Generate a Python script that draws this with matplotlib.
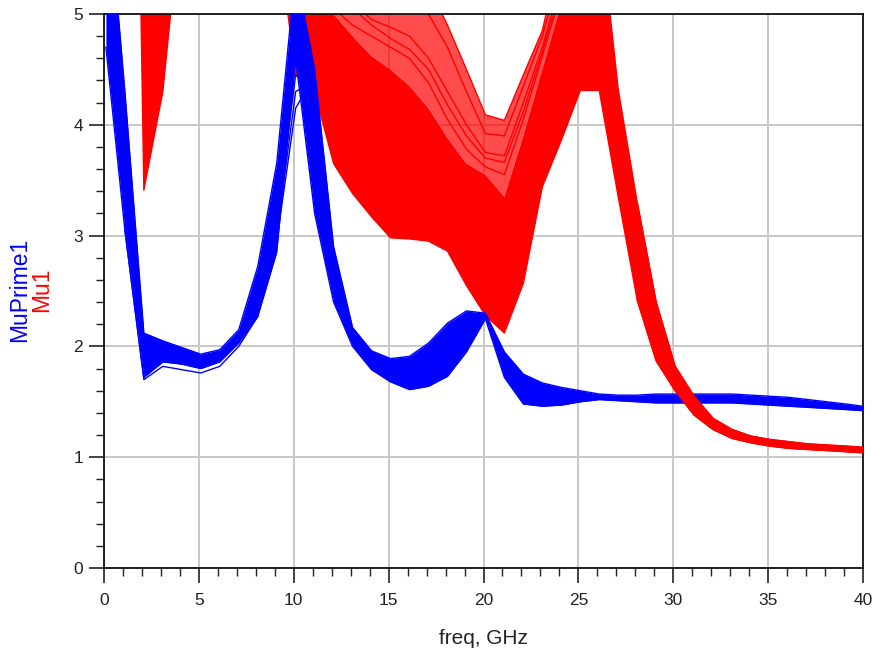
import numpy as np
import matplotlib
matplotlib.use("Agg")
import matplotlib.pyplot as plt
from matplotlib.ticker import MultipleLocator

plt.rcParams['font.family'] = ['Liberation Sans', 'DejaVu Sans']

nan = np.nan
# sweep points (GHz)
freq = np.append(np.arange(0.1, 39.2, 1.0), 40.0)

# MuPrime1 (blue) family envelope
mu_prime_upper = [6.3, 4.3, 2.12, 2.05, 1.99, 1.93, 1.97, 2.15, 2.72, 3.65,
                  5.4, 4.5, 2.9, 2.17, 1.96, 1.89, 1.91, 2.03, 2.21, 2.32,
                  2.30, 1.95, 1.75, 1.67, 1.63, 1.60, 1.57, 1.56, 1.56, 1.57,
                  1.57, 1.57, 1.57, 1.57, 1.56, 1.55, 1.54, 1.52, 1.50, 1.48,
                  1.46]
mu_prime_lower = [4.7, 3.05, 1.72, 1.86, 1.84, 1.80, 1.86, 2.03, 2.27, 2.85,
                  4.6, 3.2, 2.4, 2.0, 1.79, 1.68, 1.61, 1.64, 1.73, 1.95,
                  2.25, 1.72, 1.48, 1.46, 1.47, 1.50, 1.52, 1.51, 1.50, 1.49,
                  1.49, 1.49, 1.49, 1.49, 1.48, 1.47, 1.46, 1.45, 1.44, 1.43,
                  1.42]
# separate blue traces visible outside the dense band
mu_prime_low_trace = [nan, 3.05, 1.70, 1.82, 1.79, 1.76, 1.82, 2.00, 2.27] + [nan] * 32
mu_prime_peak_a = [nan] * 9 + [2.95, 4.15, 4.45, 2.6] + [nan] * 28
mu_prime_peak_b = [nan] * 9 + [3.00, 4.30, 4.40, 2.7] + [nan] * 28
mu_prime_peak_c = [nan] * 9 + [3.10, 4.45, 4.30, 2.75] + [nan] * 28

# Mu1 (red) family envelope
mu_lower = [18, 14, 3.41, 4.3, 6.0, 7.0, 7.5, 7.5, 7.0, 5.8,
            4.45, 4.3, 3.65, 3.38, 3.17, 2.98, 2.97, 2.95, 2.86, 2.55,
            2.28, 2.12, 2.57, 3.44, 3.86, 4.31, 4.31, 3.35, 2.42, 1.87,
            1.60, 1.38, 1.25, 1.17, 1.13, 1.10, 1.08, 1.07, 1.06, 1.05,
            1.04]
mu_dense_top = [20, 16, 5.6, 8, 9, 9, 9, 9, 9, 7,
                5.4, 5.2, 5.0, 4.8, 4.62, 4.5, 4.35, 4.15, 3.88, 3.65,
                3.55, 3.35, 3.9, 4.5, 5.1, 6.5, 5.9, 4.32, 3.3, 2.4,
                1.82, 1.55, 1.35, 1.25, 1.19, 1.16, 1.14, 1.12, 1.11, 1.10,
                1.09]
mu_upper = [20, 16, 5.6, 8, 9, 9, 9, 9, 9, 7,
            6.5, 6.3, 6.2, 6.0, 5.9, 5.8, 5.6, 5.25, 4.9, 4.5,
            4.09, 4.04, 4.45, 4.85, 5.6, 6.5, 5.9, 4.32, 3.3, 2.4,
            1.82, 1.55, 1.35, 1.25, 1.19, 1.16, 1.14, 1.12, 1.11, 1.10,
            1.09]
# a few individual upper red traces in the sparse part
mu_trace_a = [nan] * 11 + [5.3, 5.05, 4.9, 4.8, 4.7, 4.6, 4.38, 4.05, 3.78, 3.62, 3.55, 4.05, 4.62, 5.2] + [nan] * 16
mu_trace_b = [nan] * 12 + [5.3, 5.1, 4.95, 4.88, 4.8, 4.6, 4.3, 4.0, 3.75, 3.72, 4.2, 4.7, 5.3] + [nan] * 16
mu_trace_c = [nan] * 16 + [5.3, 5.0, 4.7, 4.3, 3.92, 3.9, 4.35, 4.8, 5.4] + [nan] * 16
mu_trace_d = [nan] * 10 + [5.6, 5.45, 5.2, 5.05, 4.9, 4.78, 4.68, 4.5, 4.18, 3.9, 3.7, 3.66, 4.12, 4.66, 5.25] + [nan] * 16

BLUE = '#0000ff'
RED = '#ff0000'

fig = plt.figure(figsize=(8.81, 6.59), dpi=100)
ax = fig.add_axes([104 / 881, 1 - 568 / 659, (863 - 104) / 881, (568 - 14) / 659])

# red family
ax.fill_between(freq, mu_lower, mu_dense_top, color=RED, lw=0, zorder=2)
ax.fill_between(freq, mu_dense_top, mu_upper, color=RED, alpha=0.7, lw=0, zorder=2)
for s in (mu_lower, mu_upper, mu_trace_a, mu_trace_b, mu_trace_c, mu_trace_d):
    ax.plot(freq, s, color=RED, lw=1.0, zorder=2)

# blue family
ax.fill_between(freq, mu_prime_lower, mu_prime_upper, color=BLUE, lw=0, zorder=3)
for s in (mu_prime_lower, mu_prime_upper, mu_prime_low_trace,
          mu_prime_peak_a, mu_prime_peak_b, mu_prime_peak_c):
    ax.plot(freq, s, color=BLUE, lw=1.0, zorder=3)

# red traces drawn over blue where they cross at high frequency
tail = slice(28, None)
ax.fill_between(freq[tail], mu_lower[tail], mu_upper[tail], color=RED, lw=0, zorder=4)
ax.plot(freq[tail], mu_lower[tail], color=RED, lw=1.0, zorder=4)
ax.plot(freq[tail], mu_upper[tail], color=RED, lw=1.0, zorder=4)

ax.set_xlim(0, 40)
ax.set_ylim(0, 5)
ax.xaxis.set_major_locator(MultipleLocator(5))
ax.xaxis.set_minor_locator(MultipleLocator(1))
ax.yaxis.set_major_locator(MultipleLocator(1))
ax.yaxis.set_minor_locator(MultipleLocator(0.2))
ax.tick_params(which='major', direction='out', length=11, width=1.2, colors='#222222',
               labelsize=12.5)
ax.tick_params(axis='x', which='major', pad=7)
ax.tick_params(axis='y', which='major', pad=4)
ax.tick_params(which='minor', direction='out', length=5.5, width=1.0, colors='#222222')
ax.grid(True, which='major', color='#c8c8c8', lw=1.4, zorder=0)
ax.set_axisbelow(True)
for sp in ax.spines.values():
    sp.set_color('#111111')
    sp.set_linewidth(1.3)

ax.set_xlabel('freq, GHz', fontsize=15, color='#222222', labelpad=15)
fig.text(20 / 881, 1 - 290 / 659, 'MuPrime1', color=BLUE, fontsize=16.5,
         rotation=90, ha='center', va='center')
fig.text(42 / 881, 1 - 290 / 659, 'Mu1', color=RED, fontsize=16.5,
         rotation=90, ha='center', va='center')

fig.savefig('out.png', dpi=100)
